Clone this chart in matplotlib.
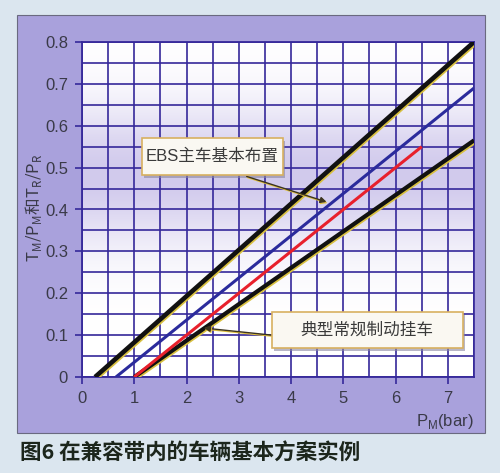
import numpy as np
import matplotlib
matplotlib.use("Agg")
import matplotlib.pyplot as plt
import matplotlib.patheffects as pe
from matplotlib.patches import Rectangle
from matplotlib.colors import LinearSegmentedColormap

plt.rcParams['font.family'] = ['Liberation Sans', 'Noto Sans CJK SC', 'DejaVu Sans']
plt.rcParams['mathtext.fontset'] = 'custom'
plt.rcParams['mathtext.rm'] = 'Liberation Sans'

# ---- data ----
ebs_upper_x = [0.25, 7.5]
ebs_upper_y = [0.0, 0.80]
ebs_mid_x = [0.65, 7.5]
ebs_mid_y = [0.0, 0.69]
red_x = [1.0, 6.5]
red_y = [0.0, 0.55]
lower_x = [1.0, 7.5]
lower_y = [0.0, 0.565]
x_ticks = [0, 1, 2, 3, 4, 5, 6, 7]
y_ticks = [0, 0.1, 0.2, 0.3, 0.4, 0.5, 0.6, 0.7, 0.8]
y_ticklabels = ['0', '0.1', '0.2', '0.3', '0.4', '0.5', '0.6', '0.7', '0.8']
label_ebs = 'EBS主车基本布置'
label_conv = '典型常规制动挂车'
title = '图6 在兼容带内的车辆基本方案实例'

W, H = 500, 473
fig = plt.figure(figsize=(W / 100, H / 100), dpi=100)
fig.patch.set_facecolor('#dbe6ef')

# purple panel
panel = Rectangle((17 / W, 1 - 433 / H), (485 - 17) / W, (433 - 15) / H,
                  transform=fig.transFigure, facecolor='#a9a1dc',
                  edgecolor='#6a6a80', lw=0.8, zorder=-5)
fig.patches.append(panel)

ax = fig.add_axes([82 / W, 1 - 377 / H, (474 - 82) / W, (377 - 42) / H])
ax.set_zorder(2)
ax.set_xlim(0, 7.5)
ax.set_ylim(0, 0.8)

# gradient background
yy = np.linspace(0, 1, 200)
prof = 0.8 * np.exp(-((yy - 0.6) / 0.2) ** 2)
cmap = LinearSegmentedColormap.from_list('bg', ['#ffffff', '#c6bde8'])
ax.imshow(prof[:, None], aspect='auto', cmap=cmap, extent=[0, 7.5, 0, 0.8],
          origin='lower', vmin=0, vmax=1, zorder=0)

gridc = '#35289a'
for xv in np.arange(0, 7.51, 0.5):
    ax.axvline(xv, color=gridc, lw=1.2, zorder=1)
for yv in np.arange(0, 0.801, 0.05):
    ax.axhline(yv, color=gridc, lw=1.2, zorder=1)

for s in ax.spines.values():
    s.set_color(gridc)
    s.set_linewidth(1.3)

shadow = [pe.SimpleLineShadow(offset=(0.9, -0.9), shadow_color='#d8c040', alpha=1.0), pe.Normal()]
ax.plot(ebs_upper_x, ebs_upper_y, color='#111111', lw=3.3, zorder=4,
        solid_capstyle='butt', path_effects=shadow)
ax.plot(lower_x, lower_y, color='#111111', lw=3.0, zorder=4,
        solid_capstyle='butt', path_effects=shadow)
ax.plot(ebs_mid_x, ebs_mid_y, color='#2b2b9c', lw=2.2, zorder=5, solid_capstyle='butt')
ax.plot(red_x, red_y, color='#e8202c', lw=2.2, zorder=6, solid_capstyle='butt')

ax.set_xticks(x_ticks)
ax.set_yticks(y_ticks)
ax.set_yticklabels(y_ticklabels)
ax.tick_params(axis='both', colors=gridc, length=5, width=1.2, labelsize=12,
               labelcolor='#3a3a48', pad=5)

# annotation boxes
def box(x0, y0, x1, y1, text):
    ax.add_patch(Rectangle((x0 + 0.04, y0 - 0.006), x1 - x0, y1 - y0,
                           facecolor='#8a86a0', edgecolor='none', alpha=0.6,
                           zorder=7, clip_on=False))
    ax.add_patch(Rectangle((x0, y0), x1 - x0, y1 - y0, facecolor='#faf8f2',
                           edgecolor='#d8b060', lw=1.2, zorder=8, clip_on=False))
    ax.text((x0 + x1) / 2, (y0 + y1) / 2, text, ha='center', va='center',
            fontsize=12, color='#3a3a3a', zorder=9)

box(1.15, 0.482, 3.84, 0.570, label_ebs)
box(3.63, 0.069, 7.28, 0.155, label_conv)

arrowprops = dict(arrowstyle='-|>', color='#3c3420', lw=1.0, mutation_scale=9,
                  shrinkA=0, shrinkB=0,
                  path_effects=[pe.SimpleLineShadow(offset=(0.6, -0.8), shadow_color='#e0c040', alpha=1), pe.Normal()])
ax.annotate('', xy=(4.68, 0.418), xytext=(3.15, 0.479), arrowprops=arrowprops, zorder=7)
ax.annotate('', xy=(2.33, 0.117), xytext=(3.63, 0.100), arrowprops=arrowprops, zorder=7)

# axis labels
fig.text(34 / W, 1 - 208 / H,
         r'T$_\mathregular{M}$/P$_\mathregular{M}$和T$_\mathregular{R}$/P$_\mathregular{R}$',
         rotation=90, ha='center', va='center', fontsize=12, color='#3a3a48',
         family='Noto Sans CJK SC')
fig.text(474 / W, 1 - 421 / H, r'P$_\mathregular{M}$(bar)', ha='right', va='center',
         fontsize=12, color='#3a3a48')

fig.text(20 / W, 1 - 453 / H, title, ha='left', va='center', fontsize=15.5,
         fontweight='bold', color='#1c261c', family=['Noto Sans CJK SC', 'DejaVu Sans'])

fig.savefig('out.png', dpi=100, facecolor=fig.get_facecolor())
